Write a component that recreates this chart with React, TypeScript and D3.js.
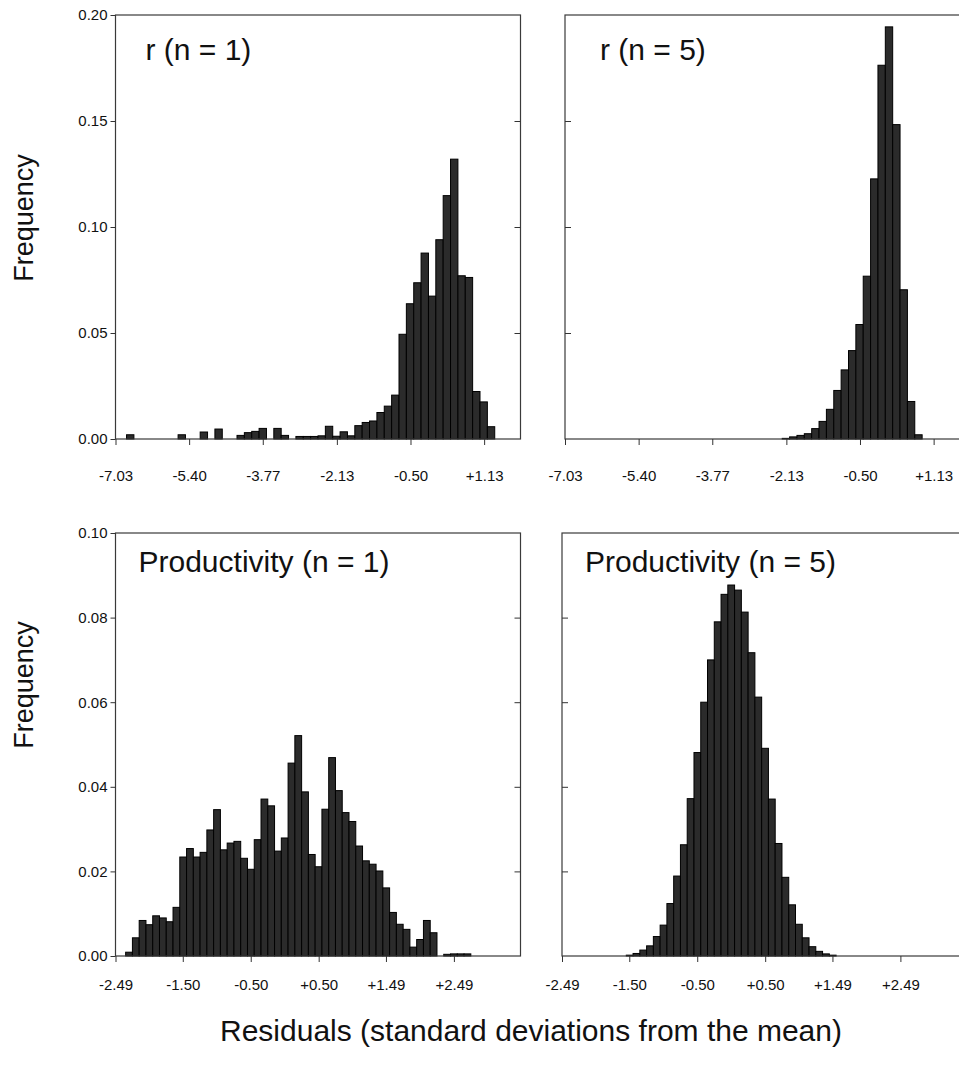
import React, { useEffect, useRef } from "react";
import * as d3 from "d3";

// tick labels on the residual axes
const rTicks = [-7.03, -5.40, -3.77, -2.13, -0.50, 1.13];
const prodTicks = [-2.49, -1.50, -0.50, 0.50, 1.49, 2.49];
const rFreqTicks = [0, 0.05, 0.1, 0.15, 0.2];
const prodFreqTicks = [0, 0.02, 0.04, 0.06, 0.08, 0.1];

// bin widths (sd units)
const rBin = 0.163;
const prodBin = 0.0996;

// r, n = 1 : bins counted from -7.03
const rN1First = 0;
const rN1Freq = [
  0, 0, 0.002, 0, 0, 0, 0, 0, 0, 0.002, 0, 0, 0.0033, 0, 0.0047, 0, 0, 0.0017, 0.003, 0.0036,
  0.005, 0, 0.005, 0.0017, 0, 0.0012, 0.0012, 0.0012, 0.0015, 0.006, 0.0013, 0.0034, 0.0015,
  0.0063, 0.0078, 0.0085, 0.0125, 0.0155, 0.0207, 0.0494, 0.0638, 0.0737, 0.0877, 0.0674,
  0.094, 0.1148, 0.132, 0.077, 0.0762, 0.0224, 0.0175, 0.0058,
];

// r, n = 5
const rN5First = 30;
const rN5Freq = [
  0.0003, 0.001, 0.0017, 0.0025, 0.0049, 0.0083, 0.014, 0.0229, 0.0326, 0.0417, 0.054,
  0.0768, 0.1227, 0.1763, 0.1944, 0.1483, 0.0704, 0.0177, 0.002,
];

// productivity, n = 1 : bins counted from -2.49
const prodN1First = 2;
const prodN1Freq = [
  0.0009, 0.0043, 0.0084, 0.0074, 0.0095, 0.009, 0.0081, 0.0115, 0.0234, 0.0254, 0.0234,
  0.0245, 0.0298, 0.0346, 0.0251, 0.0267, 0.0271, 0.0231, 0.0205, 0.0275, 0.0371, 0.0355,
  0.0248, 0.0279, 0.0456, 0.0521, 0.0388, 0.024, 0.0211, 0.0347, 0.0469, 0.0391, 0.0339,
  0.0318, 0.026, 0.0225, 0.0217, 0.0201, 0.0161, 0.0103, 0.0075, 0.0063, 0.0021, 0.0039,
  0.0084, 0.0055, 0, 0.0004, 0.0005, 0.0005, 0.0005,
];

// productivity, n = 5
const prodN5First = 10;
const prodN5Freq = [
  0.0002, 0.0006, 0.0014, 0.0024, 0.0046, 0.0073, 0.0124, 0.0189, 0.0263, 0.0372, 0.0481,
  0.06, 0.07, 0.079, 0.0855, 0.0877, 0.0865, 0.0813, 0.0717, 0.0612, 0.0491, 0.0371, 0.0266,
  0.0186, 0.0121, 0.0075, 0.0043, 0.0022, 0.0011, 0.0005, 0.0002,
];

const FONT = "'Liberation Sans', Arial, sans-serif";

const App = () => {
  const svgRef = useRef(null);

  useEffect(() => {
    const svg = d3.select(svgRef.current);
    svg.selectAll("*").remove();

    // plain hyphen for negatives, like the original
    const fmt = d3.formatLocale({ decimal: ".", thousands: ",", grouping: [3], currency: ["", ""], minus: "-" }).format(".2f");
    const signed = (d) => (d > 0 ? "+" + fmt(d) : fmt(d));

    const panels = [
      { left: 115.5, top: 15, height: 424, x0: -7.03, x1: 1.935, yMax: 0.2, yTicks: rFreqTicks, xTicks: rTicks,
        bin: rBin, first: rN1First, freq: rN1Freq, title: "r (n = 1)", tx: 30, ty: 45, yLabels: true, pad: 25 },
      { left: 565, top: 15, height: 424, x0: -7.03, x1: 1.935, yMax: 0.2, yTicks: rFreqTicks, xTicks: rTicks,
        bin: rBin, first: rN5First, freq: rN5Freq, title: "r (n = 5)", tx: 35, ty: 45, yLabels: false, pad: 25 },
      { left: 115.5, top: 533, height: 423, x0: -2.49, x1: 3.47, yMax: 0.1, yTicks: prodFreqTicks, xTicks: prodTicks,
        bin: prodBin, first: prodN1First, freq: prodN1Freq, title: "Productivity (n = 1)", tx: 23, ty: 39, yLabels: true, pad: 17 },
      { left: 562, top: 533, height: 423, x0: -2.49, x1: 3.47, yMax: 0.1, yTicks: prodFreqTicks, xTicks: prodTicks,
        bin: prodBin, first: prodN5First, freq: prodN5Freq, title: "Productivity (n = 5)", tx: 23, ty: 39, yLabels: false, pad: 17 },
    ];

    const width = 405;

    panels.forEach((p) => {
      const g = svg.append("g").attr("transform", `translate(${p.left},${p.top})`);
      const x = d3.scaleLinear().domain([p.x0, p.x1]).range([0, width]);
      const y = d3.scaleLinear().domain([0, p.yMax]).range([p.height, 0]);

      const bars = p.freq
        .map((v, k) => ({ v, c: p.x0 + (p.first + k) * p.bin }))
        .filter((d) => d.v > 0);

      g.selectAll("rect.bar")
        .data(bars)
        .enter().append("rect")
        .attr("class", "bar")
        .attr("x", (d) => x(d.c - p.bin / 2))
        .attr("width", (d) => x(d.c + p.bin / 2) - x(d.c - p.bin / 2))
        .attr("y", (d) => y(d.v))
        .attr("height", (d) => y(0) - y(d.v))
        .attr("fill", "#2b2b2b")
        .attr("stroke", "#000")
        .attr("stroke-width", 1);

      // frame
      g.append("rect")
        .attr("width", width)
        .attr("height", p.height)
        .attr("fill", "none")
        .attr("stroke", "#3a3a3a")
        .attr("stroke-width", 1.2);

      // x axis
      const xa = g.append("g")
        .attr("transform", `translate(0,${p.height})`)
        .call(d3.axisBottom(x).tickValues(p.xTicks).tickSize(6).tickPadding(p.pad).tickFormat(signed));
      xa.select(".domain").remove();

      // y axis
      if (p.yLabels) {
        const ya = g.append("g")
          .call(d3.axisLeft(y).tickValues(p.yTicks).tickSize(5).tickPadding(3).tickFormat(fmt));
        ya.select(".domain").remove();
        const yr = g.append("g")
          .attr("transform", `translate(${width},0)`)
          .call(d3.axisLeft(y).tickValues(p.yTicks.slice(1, -1)).tickSize(6).tickFormat(() => ""));
        yr.select(".domain").remove();
      } else {
        const ya = g.append("g")
          .call(d3.axisRight(y).tickValues(p.yTicks.slice(1, -1)).tickSize(6).tickFormat(() => ""));
        ya.select(".domain").remove();
      }

      g.selectAll(".tick line").attr("stroke", "#333");
      g.selectAll(".tick text")
        .attr("font-family", FONT)
        .attr("font-size", 15)
        .attr("fill", "#111");

      g.append("text")
        .attr("x", p.tx)
        .attr("y", p.ty)
        .attr("font-family", FONT)
        .attr("font-size", 30)
        .attr("fill", "#111")
        .text(p.title);
    });

    [218, 685].forEach((cy) => {
      svg.append("text")
        .attr("transform", `translate(33,${cy}) rotate(-90)`)
        .attr("text-anchor", "middle")
        .attr("font-family", FONT)
        .attr("font-size", 27)
        .attr("fill", "#111")
        .text("Frequency");
    });

    svg.append("text")
      .attr("x", 531)
      .attr("y", 1041)
      .attr("text-anchor", "middle")
      .attr("font-family", FONT)
      .attr("font-size", 30)
      .attr("fill", "#111")
      .text("Residuals (standard deviations from the mean)");
  }, []);

  return (
    <svg
      ref={svgRef}
      width={959}
      height={1067}
      style={{ position: "absolute", left: 0, top: 0, background: "#fff" }}
    ></svg>
  );
};

export default App;
